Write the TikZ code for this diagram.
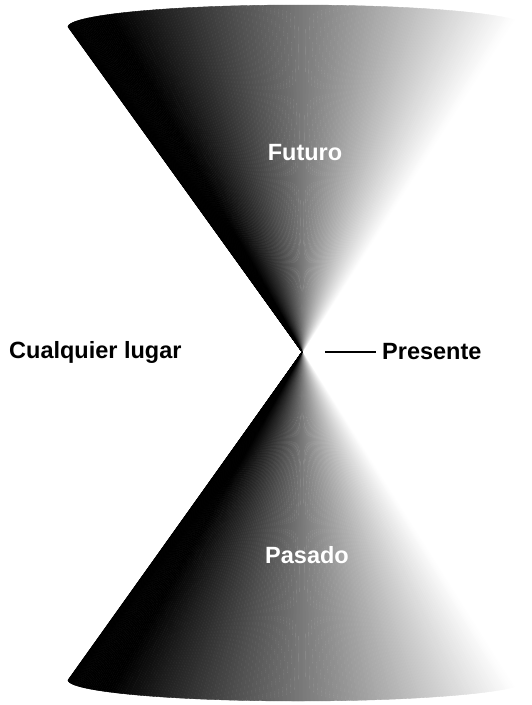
\documentclass[tikz,border=0pt]{standalone}
\usepackage{fontspec}
\setmainfont{Liberation Sans}
\begin{document}
\begin{tikzpicture}[x=1pt,y=-1pt,
  lbl/.style={font=\bfseries\fontsize{23.5}{28}\selectfont, inner sep=0pt},
  conn/.style={line width=1.2pt, black}]
\useasboundingbox (0,0) rectangle (532,705);
\coordinate (apex) at (302,352);
% upper cone (Futuro)
\foreach \i in {0,...,179}{
  \pgfmathsetmacro{\g}{max(0,min(1,((1+cos(\i+0.5))/2-0.09)/0.88))}
  \pgfmathsetmacro{\k}{100*(1-\g)}
  \fill[black!\k, draw=black!\k, line width=0.4pt, line join=round]
    (apex) -- ({298+230*cos(\i)},{27-22*sin(\i)})
    -- ({298+230*cos(\i+1)},{27-22*sin(\i+1)}) -- cycle;
}
% lower cone (Pasado)
\foreach \i in {0,...,179}{
  \pgfmathsetmacro{\g}{max(0,min(1,((1+cos(\i+0.5))/2-0.09)/0.88))}
  \pgfmathsetmacro{\k}{100*(1-\g)}
  \fill[black!\k, draw=black!\k, line width=0.4pt, line join=round]
    (apex) -- ({298+230*cos(\i)},{680+21*sin(\i)})
    -- ({298+230*cos(\i+1)},{680+21*sin(\i+1)}) -- cycle;
}
\node[lbl, white, anchor=base] (futuro) at (305,160) {Futuro};
\node[lbl, white, anchor=base] (pasado) at (307,563) {Pasado};
\node[lbl, anchor=base west] (cualquier) at (9,358) {Cualquier lugar};
\node[lbl, anchor=base west, inner xsep=6pt] (presente) at (376,359) {Presente};
\coordinate (pl) at (325,352);
\draw[conn] (pl) -- (pl -| presente.west);
\end{tikzpicture}
\end{document}
